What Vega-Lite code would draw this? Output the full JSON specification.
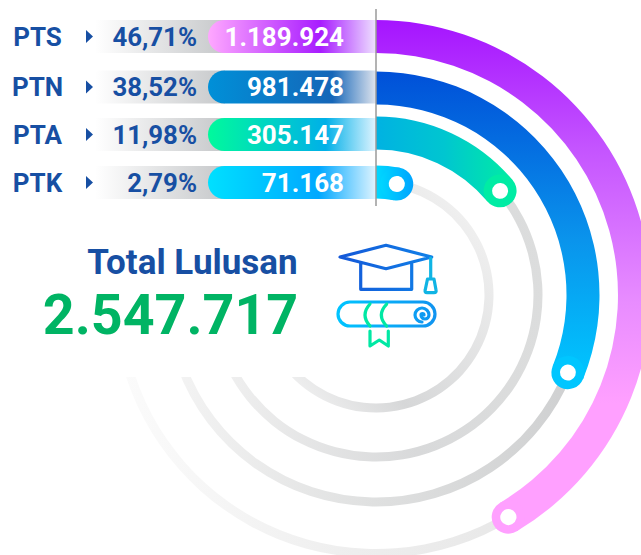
{
"$schema":"https://vega.github.io/schema/vega-lite/v6.json",
"width":641,"height":555,"padding":0,
"autosize":{"type":"fit","contains":"padding"},
"background":"white",
"config":{"view":{"stroke":null},"axis":{"disable":true},"legend":{"disable":true},"font":"Roboto"},
"datasets":{
"rows":[
{"name":"PTS","slot":1,"start":0,"angle":149.2,"capFrom":145.5,"capTo":152.9,"dotFrom":147.4,"dotTo":151,"trackTo":255,"pct":"46,71%","label":"1.189.924","lulusan":1189924},
{"name":"PTN","slot":2,"start":0,"angle":112,"capFrom":107.4,"capTo":116.6,"dotFrom":109.8,"dotTo":114.2,"trackTo":250,"pct":"38,52%","label":"981.478","lulusan":981478},
{"name":"PTA","slot":3,"start":0,"angle":50,"capFrom":44.2,"capTo":55.8,"dotFrom":47.2,"dotTo":52.8,"trackTo":243,"pct":"11,98%","label":"305.147","lulusan":305147},
{"name":"PTK","slot":4,"start":0,"angle":10.6,"capFrom":2.2,"capTo":19,"dotFrom":6.5,"dotTo":14.7,"trackTo":227,"pct":"2,79%","label":"71.168","lulusan":71168}
],
"one":[{"item":"decor"}]
},
"encoding":{},
"layer":[
{"data":{"name":"rows"},
"mark":{"type":"arc","radiusOffset":4.5,"radius2Offset":-4.5},
"encoding":{
"x":{"datum":376,"type":"quantitative","scale":{"domain":[0,641],"range":[0,641],"nice":false,"zero":false,"padding":0}},
"y":{"datum":6.344,"type":"quantitative","scale":{"domain":[1,2,3,4],"range":[35.5,86,133.5,181.5],"nice":false,"zero":false,"padding":0}},
"theta":{"field":"angle","type":"quantitative","scale":{"domain":[0,360],"range":[0,6.283185],"nice":false}},
"theta2":{"field":"trackTo"},
"radius":{"field":"slot","type":"quantitative","scale":{"type":"linear","domain":[1,2,3,4],"range":[258.5,207,162,113],"nice":false,"zero":false}},
"radius2":{"field":"slot"},
"color":{"condition":[
{"test":"datum.name==='PTS'","value":{"gradient":"linear","x1":0,"y1":0.5,"x2":1,"y2":0.5,"stops":[{"offset":0,"color":"#fbfbfb"},{"offset":0.6,"color":"#eeeeee"},{"offset":1,"color":"#e8e8e8"}]}},
{"test":"datum.name==='PTN'","value":{"gradient":"linear","x1":0,"y1":0.5,"x2":1,"y2":0.5,"stops":[{"offset":0,"color":"#f3f3f3"},{"offset":0.5,"color":"#dfe0e0"},{"offset":1,"color":"#cfd0d1"}]}},
{"test":"datum.name==='PTA'","value":{"gradient":"linear","x1":0,"y1":0.5,"x2":1,"y2":0.5,"stops":[{"offset":0,"color":"#efefef"},{"offset":0.6,"color":"#d8d9da"},{"offset":1,"color":"#dcdddd"}]}}
],"value":{"gradient":"linear","x1":0,"y1":1,"x2":1,"y2":0,"stops":[{"offset":0,"color":"#f6f6f6"},{"offset":0.3,"color":"#d6d7d8"},{"offset":0.85,"color":"#efefef"}]}}
}},
{"data":{"name":"one"},
"mark":{"type":"rect","fill":"white"},
"encoding":{"x":{"datum":0,"type":"quantitative"},"x2":{"datum":376},"y":{"datum":0.297,"type":"quantitative"},"y2":{"datum":8.052}}},
{"data":{"name":"rows"},
"mark":{"type":"bar","orient":"horizontal","height":33,"fill":{"gradient":"linear","x1":0,"y1":0.5,"x2":1,"y2":0.5,"stops":[{"offset":0,"color":"#ffffff"},{"offset":1,"color":"#c6c8ca"}]}},
"encoding":{"x":{"datum":95,"type":"quantitative"},"x2":{"datum":225},"y":{"field":"slot","type":"quantitative"}}},
{"data":{"name":"rows"},
"mark":{"type":"bar","orient":"horizontal","height":33,"cornerRadiusTopLeft":16.5,"cornerRadiusBottomLeft":16.5},
"encoding":{"x":{"datum":208,"type":"quantitative"},"x2":{"datum":376},"y":{"field":"slot","type":"quantitative"},
"color":{"condition":[
{"test":"datum.name==='PTS'","value":{"gradient":"linear","x1":0,"y1":0.5,"x2":1,"y2":0.5,"stops":[{"offset":0,"color":"#ffa8ff"},{"offset":0.67,"color":"#a81cff"},{"offset":1,"color":"#eee0ff"}]}},
{"test":"datum.name==='PTN'","value":{"gradient":"linear","x1":0,"y1":0.5,"x2":1,"y2":0.5,"stops":[{"offset":0,"color":"#0090d8"},{"offset":0.74,"color":"#1566b8"},{"offset":1,"color":"#dfe4ee"}]}},
{"test":"datum.name==='PTA'","value":{"gradient":"linear","x1":0,"y1":0.5,"x2":1,"y2":0.5,"stops":[{"offset":0,"color":"#00fa9c"},{"offset":0.7,"color":"#00b0e8"},{"offset":1,"color":"#dff4ff"}]}}
],"value":{"gradient":"linear","x1":0,"y1":0.5,"x2":1,"y2":0.5,"stops":[{"offset":0,"color":"#00e0ff"},{"offset":0.66,"color":"#00a8ff"},{"offset":1,"color":"#dff4ff"}]}}
}},
{"data":{"name":"rows"},
"mark":{"type":"arc","radiusOffset":16.5,"radius2Offset":-16.5},
"encoding":{
"x":{"datum":376,"type":"quantitative"},"y":{"datum":6.344,"type":"quantitative"},
"theta":{"field":"start","type":"quantitative"},"theta2":{"field":"angle"},
"radius":{"field":"slot","type":"quantitative"},"radius2":{"field":"slot"},
"color":{"condition":[
{"test":"datum.name==='PTS'","value":{"gradient":"linear","x1":0,"y1":0,"x2":0,"y2":1,"stops":[{"offset":0,"color":"#a514ff"},{"offset":0.25,"color":"#c454ff"},{"offset":0.55,"color":"#e88cff"},{"offset":0.75,"color":"#ffa0ff"},{"offset":1,"color":"#ffa0ff"}]}},
{"test":"datum.name==='PTN'","value":{"gradient":"linear","x1":0,"y1":0,"x2":0,"y2":1,"stops":[{"offset":0,"color":"#0050d8"},{"offset":0.55,"color":"#0a94ec"},{"offset":1,"color":"#00c6ff"}]}},
{"test":"datum.name==='PTA'","value":{"gradient":"linear","x1":0,"y1":0,"x2":1,"y2":0,"stops":[{"offset":0,"color":"#00b2e2"},{"offset":0.5,"color":"#00c6d0"},{"offset":1,"color":"#00eca4"}]}}
],"value":{"gradient":"linear","x1":0,"y1":0,"x2":1,"y2":0,"stops":[{"offset":0,"color":"#00d8ff"},{"offset":1,"color":"#00b8ff"}]}}
}},
{"data":{"name":"rows"},
"mark":{"type":"arc","radiusOffset":16.5,"radius2Offset":-16.5,"cornerRadius":16.5},
"encoding":{
"x":{"datum":376,"type":"quantitative"},"y":{"datum":6.344,"type":"quantitative"},
"theta":{"field":"capFrom","type":"quantitative"},"theta2":{"field":"capTo"},
"radius":{"field":"slot","type":"quantitative"},"radius2":{"field":"slot"},
"color":{"condition":[
{"test":"datum.name==='PTS'","value":"#ffa0ff"},
{"test":"datum.name==='PTN'","value":"#00c6ff"},
{"test":"datum.name==='PTA'","value":"#00eca4"}
],"value":{"gradient":"linear","x1":0,"y1":0,"x2":1,"y2":0,"stops":[{"offset":0,"color":"#00d6ff"},{"offset":1,"color":"#00a4ff"}]}}
}},
{"data":{"name":"rows"},
"mark":{"type":"arc","radiusOffset":8,"radius2Offset":-8,"cornerRadius":8,"fill":"white"},
"encoding":{
"x":{"datum":376,"type":"quantitative"},"y":{"datum":6.344,"type":"quantitative"},
"theta":{"field":"dotFrom","type":"quantitative"},"theta2":{"field":"dotTo"},
"radius":{"field":"slot","type":"quantitative"},"radius2":{"field":"slot"}
}},
{"data":{"name":"rows"},
"mark":{"type":"text","align":"center","baseline":"middle","dy":1,"fontSize":26,"fontWeight":"bold","fill":"#174fa3"},
"encoding":{"x":{"datum":37.5,"type":"quantitative"},"y":{"field":"slot","type":"quantitative"},"text":{"field":"name"}}},
{"data":{"name":"rows"},
"mark":{"type":"point","shape":"M-3.5 -6.5L3.5 0L-3.5 6.5Z","filled":true,"size":4,"fill":"#174fa3","opacity":1},
"encoding":{"x":{"datum":89.5,"type":"quantitative"},"y":{"field":"slot","type":"quantitative"}}},
{"data":{"name":"rows"},
"mark":{"type":"text","align":"right","baseline":"middle","dy":1,"fontSize":25.8,"fontWeight":"bold","fill":"#174fa3"},
"encoding":{"x":{"datum":197,"type":"quantitative"},"y":{"field":"slot","type":"quantitative"},"text":{"field":"pct"}}},
{"data":{"name":"rows"},
"mark":{"type":"text","align":"right","baseline":"middle","dy":1,"fontSize":26,"fontWeight":"bold","fill":"white"},
"encoding":{"x":{"datum":344,"type":"quantitative"},"y":{"field":"slot","type":"quantitative"},"text":{"field":"label"}}},
{"data":{"name":"one"},
"mark":{"type":"text","align":"center","baseline":"middle","fontSize":35,"fontWeight":"bold","fill":"#174fa3","text":"Total Lulusan"},
"encoding":{"x":{"datum":192.5,"type":"quantitative"},"y":{"datum":5.677,"type":"quantitative"}}},
{"data":{"name":"one"},
"mark":{"type":"text","align":"center","baseline":"middle","fontSize":55.6,"fontWeight":"bold","fill":"#00b464","text":"2.547.717"},
"encoding":{"x":{"datum":170.5,"type":"quantitative"},"y":{"datum":6.802,"type":"quantitative"}}},
{"data":{"name":"one"},
"mark":{"type":"point","filled":false,"size":4,"opacity":1,"strokeWidth":3.2,"strokeJoin":"round","strokeCap":"round","stroke":{"gradient":"linear","x1":0,"y1":0,"x2":1,"y2":0,"stops":[{"offset":0,"color":"#1458d8"},{"offset":1,"color":"#1080e8"}]},"shape":"M-46 -39L0 -50.7L45.7 -39L0 -27.3ZM-25.3 -33.3L-25.3 -6.7L25.7 -6.7L25.7 -33.3"},
"encoding":{"x":{"datum":386,"type":"quantitative"},"y":{"datum":6.365,"type":"quantitative"}}},
{"data":{"name":"one"},
"mark":{"type":"point","filled":false,"size":4,"opacity":1,"strokeWidth":3.2,"strokeJoin":"round","strokeCap":"round","stroke":"#10b4e4","shape":"M44.7 -38L44.7 -17M41.5 -17L48 -17L50 -6Q50.7 -3.3 48 -3.3L41 -3.3Q38.5 -3.3 39.2 -6Z"},
"encoding":{"x":{"datum":386,"type":"quantitative"},"y":{"datum":6.365,"type":"quantitative"}}},
{"data":{"name":"one"},
"mark":{"type":"point","filled":false,"size":4,"opacity":1,"strokeWidth":3.2,"strokeJoin":"round","strokeCap":"round","stroke":{"gradient":"linear","x1":0,"y1":0,"x2":1,"y2":0,"stops":[{"offset":0,"color":"#00c4ff"},{"offset":1,"color":"#1094f0"}]},"shape":"M-36 6L37 6A12 12 0 0 1 37 30L-36 30A12 12 0 0 1 -36 6ZM36 26A7 7 0 1 1 43 19A4 4 0 0 1 35 19A1.5 1.5 0 0 1 38 19"},
"encoding":{"x":{"datum":386,"type":"quantitative"},"y":{"datum":6.365,"type":"quantitative"}}},
{"data":{"name":"one"},
"mark":{"type":"point","filled":false,"size":4,"opacity":1,"strokeWidth":3.2,"strokeJoin":"round","strokeCap":"round","stroke":"#00e8a4","shape":"M-16 8Q-26 19 -16 30M0.7 8Q-10 19 0.7 30M-16 35L-16 50L-6.7 44L2.3 50L2.3 35"},
"encoding":{"x":{"datum":386,"type":"quantitative"},"y":{"datum":6.365,"type":"quantitative"}}},
{"data":{"name":"one"},
"mark":{"type":"rule","stroke":"#9a9a9a","strokeWidth":1.5},
"encoding":{"x":{"datum":376,"type":"quantitative"},"y":{"datum":0.4554,"type":"quantitative"},"y2":{"datum":4.4896}}}
]
}
